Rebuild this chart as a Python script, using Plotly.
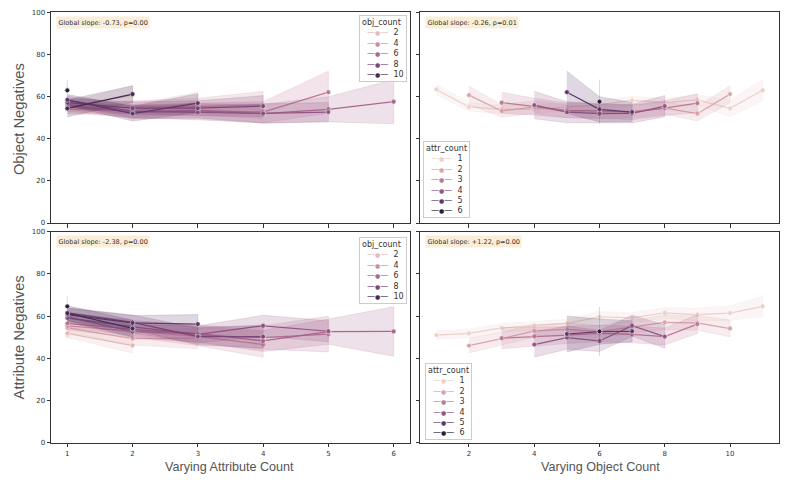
import numpy as np
import plotly.graph_objects as go

# ---------------- data ----------------
attr_levels = [1, 2, 3, 4, 5, 6]
obj_levels = [1, 2, 3, 4, 5, 6, 7, 8, 9, 10, 11]

# object counts present for each attribute count
objs_attr1 = [1, 2, 3, 4, 5, 6, 7, 8, 9, 10, 11]
objs_attr2 = [2, 3, 4, 5, 6, 7, 8, 9, 10]
objs_attr3 = [3, 4, 5, 6, 7, 8, 9]
objs_attr4 = [4, 5, 6, 7, 8]
objs_attr5 = [5, 6, 7]
objs_attr6 = [6]

# Object Negatives (mean, CI half-width) per attribute count, over object counts
obj_neg_attr1 = [63.4, 55.1, 54.0, 54.0, 55.1, 56.2, 58.2, 57.1, 58.5, 54.4, 63.0]
obj_neg_attr2 = [60.7, 53.2, 55.0, 53.0, 52.5, 53.0, 54.5, 51.9, 61.2]
obj_neg_attr3 = [57.1, 55.2, 53.5, 53.2, 52.5, 54.5, 56.9]
obj_neg_attr4 = [56.0, 52.6, 51.9, 52.0, 55.5]
obj_neg_attr5 = [62.1, 54.0, 52.7]
obj_neg_attr6 = [57.6]

obj_ci_attr1 = [2.5, 2.0, 2.0, 2.0, 2.0, 2.0, 2.0, 2.0, 2.5, 4.0, 5.0]
obj_ci_attr2 = [4.5, 3.0, 3.0, 3.0, 3.0, 3.0, 3.0, 3.5, 4.0]
obj_ci_attr3 = [5.0, 4.0, 3.5, 3.5, 3.5, 3.5, 4.5]
obj_ci_attr4 = [6.5, 5.0, 4.5, 4.5, 5.0]
obj_ci_attr5 = [10.0, 6.0, 4.5]
obj_ci_attr6 = [10.5]

# Attribute Negatives (mean, CI half-width)
attr_neg_attr1 = [51.0, 51.8, 54.4, 55.4, 56.5, 59.6, 59.1, 61.5, 60.7, 61.4, 64.6]
attr_neg_attr2 = [46.0, 49.3, 53.0, 53.7, 52.6, 54.9, 57.0, 56.8, 54.1]
attr_neg_attr3 = [49.5, 50.4, 51.0, 51.8, 51.3, 50.3, 56.2]
attr_neg_attr4 = [46.5, 49.8, 48.2, 55.4, 50.3]
attr_neg_attr5 = [51.5, 52.6, 52.8]
attr_neg_attr6 = [52.7]

attr_ci_attr1 = [2.0, 2.0, 2.0, 2.0, 2.0, 2.5, 2.5, 2.5, 3.0, 3.5, 4.7]
attr_ci_attr2 = [3.5, 3.0, 3.0, 3.0, 3.0, 3.0, 3.5, 3.5, 4.0]
attr_ci_attr3 = [5.0, 4.5, 4.0, 4.0, 4.0, 4.0, 4.5]
attr_ci_attr4 = [6.0, 5.5, 5.0, 5.0, 5.5]
attr_ci_attr5 = [8.5, 6.0, 5.0]
attr_ci_attr6 = [11.7]

slope_texts = ["Global slope: -0.73, p=0.00", "Global slope: -0.26, p=0.01",
               "Global slope: -2.38, p=0.00", "Global slope: +1.22, p=0.00"]
obj_legend_levels = [2, 4, 6, 8, 10]
xticks_attr = [1, 2, 3, 4, 5, 6]
xticks_obj = [2, 4, 6, 8, 10]
yticks = [0, 20, 40, 60, 80, 100]

# ---------------- build grids ----------------
objs_by_attr = [objs_attr1, objs_attr2, objs_attr3, objs_attr4, objs_attr5, objs_attr6]
objneg_by_attr = [obj_neg_attr1, obj_neg_attr2, obj_neg_attr3, obj_neg_attr4, obj_neg_attr5, obj_neg_attr6]
objci_by_attr = [obj_ci_attr1, obj_ci_attr2, obj_ci_attr3, obj_ci_attr4, obj_ci_attr5, obj_ci_attr6]
attrneg_by_attr = [attr_neg_attr1, attr_neg_attr2, attr_neg_attr3, attr_neg_attr4, attr_neg_attr5, attr_neg_attr6]
attrci_by_attr = [attr_ci_attr1, attr_ci_attr2, attr_ci_attr3, attr_ci_attr4, attr_ci_attr5, attr_ci_attr6]

def make_grid(vals, cis):
    g = {}
    for a, objs, vs, cs in zip(attr_levels, objs_by_attr, vals, cis):
        for o, v, c in zip(objs, vs, cs):
            g[(a, o)] = (v, c)
    return g

grid_obj = make_grid(objneg_by_attr, objci_by_attr)
grid_attr = make_grid(attrneg_by_attr, attrci_by_attr)

# seaborn default cubehelix colormap (light -> dark)
def cubehelix(t, start=0.0, rot=0.4, gamma=1.0, hue=0.8, light=0.85, dark=0.15):
    x = light + (dark - light) * t
    xg = x ** gamma
    a = hue * xg * (1 - xg) / 2
    phi = 2 * np.pi * (start / 3 + rot * x)
    r = xg + a * (-0.14861 * np.cos(phi) + 1.78277 * np.sin(phi))
    g = xg + a * (-0.29227 * np.cos(phi) - 0.90649 * np.sin(phi))
    b = xg + a * (1.97294 * np.cos(phi))
    return tuple(int(round(255 * min(max(c, 0), 1))) for c in (r, g, b))

def rgba(c, al):
    return f"rgba({c[0]},{c[1]},{c[2]},{al})"

def obj_color(o):
    return cubehelix((o - obj_levels[0]) / (obj_levels[-1] - obj_levels[0]))

def attr_color(a):
    return cubehelix((a - attr_levels[0]) / (attr_levels[-1] - attr_levels[0]))

fig = go.Figure()

def add_series(xs, ys, cis, color, name, xa, ya):
    fig.add_trace(go.Scatter(
        x=xs, y=ys, mode="lines+markers", name=name,
        line=dict(color=rgba(color, 1), width=1.25),
        marker=dict(symbol="circle", size=4.8, color=rgba(color, 1),
                    line=dict(color="white", width=0.6)),
        xaxis=xa, yaxis=ya, showlegend=False, hoverinfo="skip"))
    lo = [y - c for y, c in zip(ys, cis)]
    hi = [y + c for y, c in zip(ys, cis)]
    fig.add_trace(go.Scatter(
        x=list(xs) + list(xs)[::-1], y=hi + lo[::-1], mode="lines",
        fill="toself", fillcolor=rgba(color, 0.2),
        line=dict(color=rgba(color, 0.2), width=0.8),
        xaxis=xa, yaxis=ya, showlegend=False, hoverinfo="skip"))

# left panels: x = attribute count, hue = object count
for grid, xa, ya in [(grid_obj, "x", "y"), (grid_attr, "x3", "y3")]:
    for o in obj_levels:
        xs = [a for a in attr_levels if (a, o) in grid]
        ys = [grid[(a, o)][0] for a in xs]
        cs = [grid[(a, o)][1] for a in xs]
        add_series(xs, ys, cs, obj_color(o), str(o), xa, ya)

# right panels: x = object count, hue = attribute count
for grid, xa, ya in [(grid_obj, "x2", "y2"), (grid_attr, "x4", "y4")]:
    for a in attr_levels:
        xs = [o for o in obj_levels if (a, o) in grid]
        ys = [grid[(a, o)][0] for o in xs]
        cs = [grid[(a, o)][1] for o in xs]
        add_series(xs, ys, cs, attr_color(a), str(a), xa, ya)

W, H = 785, 485
xl = [51 / W, 410 / W]
xr = [420 / W, 779 / W]
yt = [(H - 222.7) / H, (H - 8.5) / H]
yb = [(H - 446) / H, (H - 231.5) / H]

axis_common = dict(showline=True, mirror=True, linecolor="#333333", linewidth=1,
                   ticks="outside", ticklen=3.5, tickwidth=1, tickcolor="#333333",
                   showgrid=False, zeroline=False,
                   tickfont=dict(family="DejaVu Sans", size=7, color="#333333"))

fig.update_layout(
    width=W, height=H, margin=dict(l=0, r=0, t=0, b=0),
    plot_bgcolor="white", paper_bgcolor="white", showlegend=False,
    xaxis=dict(domain=xl, anchor="y", range=[0.75, 6.25], tickvals=xticks_attr, showticklabels=False, **axis_common),
    yaxis=dict(domain=yt, anchor="x", range=[0, 100], tickvals=yticks, **axis_common),
    xaxis2=dict(domain=xr, anchor="y2", range=[0.5, 11.5], tickvals=xticks_obj, showticklabels=False, **axis_common),
    yaxis2=dict(domain=yt, anchor="x2", range=[0, 100], tickvals=yticks, showticklabels=False, **axis_common),
    xaxis3=dict(domain=xl, anchor="y3", range=[0.75, 6.25], tickvals=xticks_attr, **axis_common),
    yaxis3=dict(domain=yb, anchor="x3", range=[0, 100], tickvals=yticks, **axis_common),
    xaxis4=dict(domain=xr, anchor="y4", range=[0.5, 11.5], tickvals=xticks_obj, **axis_common),
    yaxis4=dict(domain=yb, anchor="x4", range=[0, 100], tickvals=yticks, showticklabels=False, **axis_common),
)

ann = []
# compact legends (title + coloured line/marker key + level)
NB = "\u00a0"
def legend_text(title, levels, colfun):
    rows = [title]
    for lv in levels:
        c = colfun(lv)
        rows.append(f"{NB}{NB}<span style='color:{rgba(c, 1)}'>\u2014<span style='font-size:6px'>\u25cf</span>\u2014</span>{NB}{NB}{lv}")
    return "<br>".join(rows)

leg_style = dict(showarrow=False, align="left", bgcolor="rgba(255,255,255,0.8)",
                 bordercolor="#cccccc", borderwidth=1, borderpad=2,
                 font=dict(family="DejaVu Sans", size=8, color="#333333"),
                 xref="paper", yref="paper")
ann.append(dict(text=legend_text("obj_count", obj_legend_levels, obj_color),
                x=407 / W, xanchor="right", y=(H - 11) / H, yanchor="top", **leg_style))
ann.append(dict(text=legend_text("obj_count", obj_legend_levels, obj_color),
                x=407 / W, xanchor="right", y=(H - 237) / H, yanchor="top", **leg_style))
ann.append(dict(text=legend_text("attr_count", attr_levels, attr_color),
                x=423 / W, xanchor="left", y=(H - 218) / H, yanchor="bottom", **leg_style))
ann.append(dict(text=legend_text("attr_count", attr_levels, attr_color),
                x=425 / W, xanchor="left", y=(H - 443) / H, yanchor="bottom", **leg_style))

for txt, (xa, ya) in zip(slope_texts, [("x", "y"), ("x2", "y2"), ("x3", "y3"), ("x4", "y4")]):
    ann.append(dict(text=txt, xref=f"{xa} domain", yref=f"{ya} domain", x=0.013, y=0.983,
                    xanchor="left", yanchor="top", showarrow=False,
                    font=dict(family="DejaVu Sans", size=6.5, color="#333333"),
                    bgcolor="rgba(245,222,179,0.5)", borderpad=1.5))
title_font_y = dict(family="Liberation Sans", size=14.7, color="#555555")
title_font_x = dict(family="Liberation Sans", size=12.6, color="#555555")
ann.append(dict(text="Object Negatives", xref="paper", yref="paper", x=19 / W, y=(H - 117) / H,
                textangle=-90, showarrow=False, font=title_font_y, xanchor="center", yanchor="middle"))
ann.append(dict(text="Attribute Negatives", xref="paper", yref="paper", x=19 / W, y=(H - 339) / H,
                textangle=-90, showarrow=False, font=title_font_y, xanchor="center", yanchor="middle"))
ann.append(dict(text="Varying Attribute Count", xref="paper", yref="paper", x=229 / W, y=(H - 471) / H,
                showarrow=False, font=title_font_x, xanchor="center", yanchor="middle"))
ann.append(dict(text="Varying Object Count", xref="paper", yref="paper", x=600 / W, y=(H - 471) / H,
                showarrow=False, font=title_font_x, xanchor="center", yanchor="middle"))
fig.update_layout(annotations=ann)

fig.write_html("out.html", config={"displayModeBar": False},
               post_script="document.body.style.margin='0px';")
